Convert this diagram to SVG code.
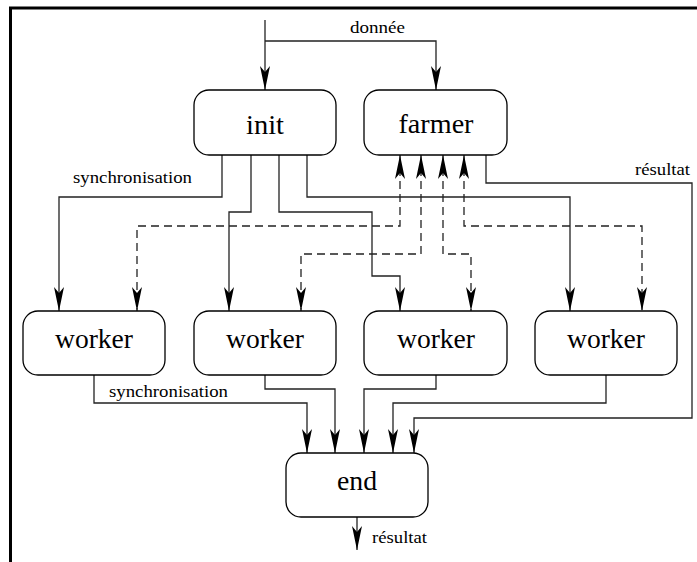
<svg xmlns="http://www.w3.org/2000/svg" width="697" height="562" viewBox="0 0 697 562">
<style>
.frame{stroke:#000;stroke-width:3;fill:none}
.box{fill:#fff;stroke:#000;stroke-width:1.3}
.node{font-family:"Liberation Serif","Times New Roman",serif;font-size:27px;fill:#000;text-anchor:middle}
.lbl{font-family:"Liberation Serif","Times New Roman",serif;font-size:17px;fill:#000}
.c{fill:none;stroke:#222;stroke-width:1.3;marker-end:url(#ah)}
.d{fill:none;stroke:#222;stroke-width:1.3;stroke-dasharray:8 5;marker-start:url(#ah);marker-end:url(#ah)}
</style>
<defs>
<marker id="ah" viewBox="-24 -5 24 10" refX="0" refY="0" markerWidth="24" markerHeight="10" markerUnits="userSpaceOnUse" orient="auto-start-reverse">
<path d="M0,0 L-24,-5 L-18,0 L-24,5 Z" fill="#000"/>
</marker>
</defs>
<rect width="697" height="562" fill="#fff"/>
<path class="frame" d="M10.5,562 V8 H697"/>
<g id="connectors">
<path class="c" d="M265,20 V90"/>
<path class="c" d="M265,41 H436 V90"/>
<path class="c" d="M222,155 V197 H59 V311"/>
<path class="c" d="M251,155 V212 H229 V311"/>
<path class="c" d="M279,155 V212 H372 V276 H400 V311"/>
<path class="c" d="M307,155 V197 H570 V311"/>
<path class="d" d="M400,155 V226 H137 V311"/>
<path class="d" d="M421,155 V254 H301 V311"/>
<path class="d" d="M443,155 V254 H471 V311"/>
<path class="d" d="M464,155 V226 H642 V311"/>
<path class="c" d="M486,155 V183 H692 V418 H414 V453"/>
<path class="c" d="M94,375 V403 H307 V453"/>
<path class="c" d="M265,375 V389 H335 V453"/>
<path class="c" d="M436,375 V389 H364 V453"/>
<path class="c" d="M606,375 V403 H393 V453"/>
<path class="c" d="M357,517 V550"/>
<text class="lbl" x="350" y="33" textLength="55" lengthAdjust="spacingAndGlyphs">donnée</text>
<text class="lbl" x="73" y="183" textLength="119" lengthAdjust="spacingAndGlyphs">synchronisation</text>
<text class="lbl" x="635" y="175" textLength="55" lengthAdjust="spacingAndGlyphs">résultat</text>
<text class="lbl" x="109" y="397" textLength="119" lengthAdjust="spacingAndGlyphs">synchronisation</text>
<text class="lbl" x="372" y="543" textLength="55" lengthAdjust="spacingAndGlyphs">résultat</text>
</g>
<g id="init"><rect class="box" x="194" y="90" width="142" height="65" rx="15"/><text class="node" x="265" y="134" textLength="38" lengthAdjust="spacingAndGlyphs">init</text></g>
<g id="farmer"><rect class="box" x="364" y="90" width="143" height="65" rx="15"/><text class="node" x="436" y="133" textLength="75" lengthAdjust="spacingAndGlyphs">farmer</text></g>
<g id="worker1"><rect class="box" x="23" y="311" width="142" height="64" rx="15"/><text class="node" x="94" y="348" textLength="78" lengthAdjust="spacingAndGlyphs">worker</text></g>
<g id="worker2"><rect class="box" x="194" y="311" width="142" height="64" rx="15"/><text class="node" x="265" y="348" textLength="78" lengthAdjust="spacingAndGlyphs">worker</text></g>
<g id="worker3"><rect class="box" x="364" y="311" width="143" height="64" rx="15"/><text class="node" x="436" y="348" textLength="78" lengthAdjust="spacingAndGlyphs">worker</text></g>
<g id="worker4"><rect class="box" x="535" y="311" width="142" height="64" rx="15"/><text class="node" x="606" y="348" textLength="78" lengthAdjust="spacingAndGlyphs">worker</text></g>
<g id="end"><rect class="box" x="286" y="453" width="142" height="64" rx="15"/><text class="node" x="357" y="490" textLength="40" lengthAdjust="spacingAndGlyphs">end</text></g>
</svg>
